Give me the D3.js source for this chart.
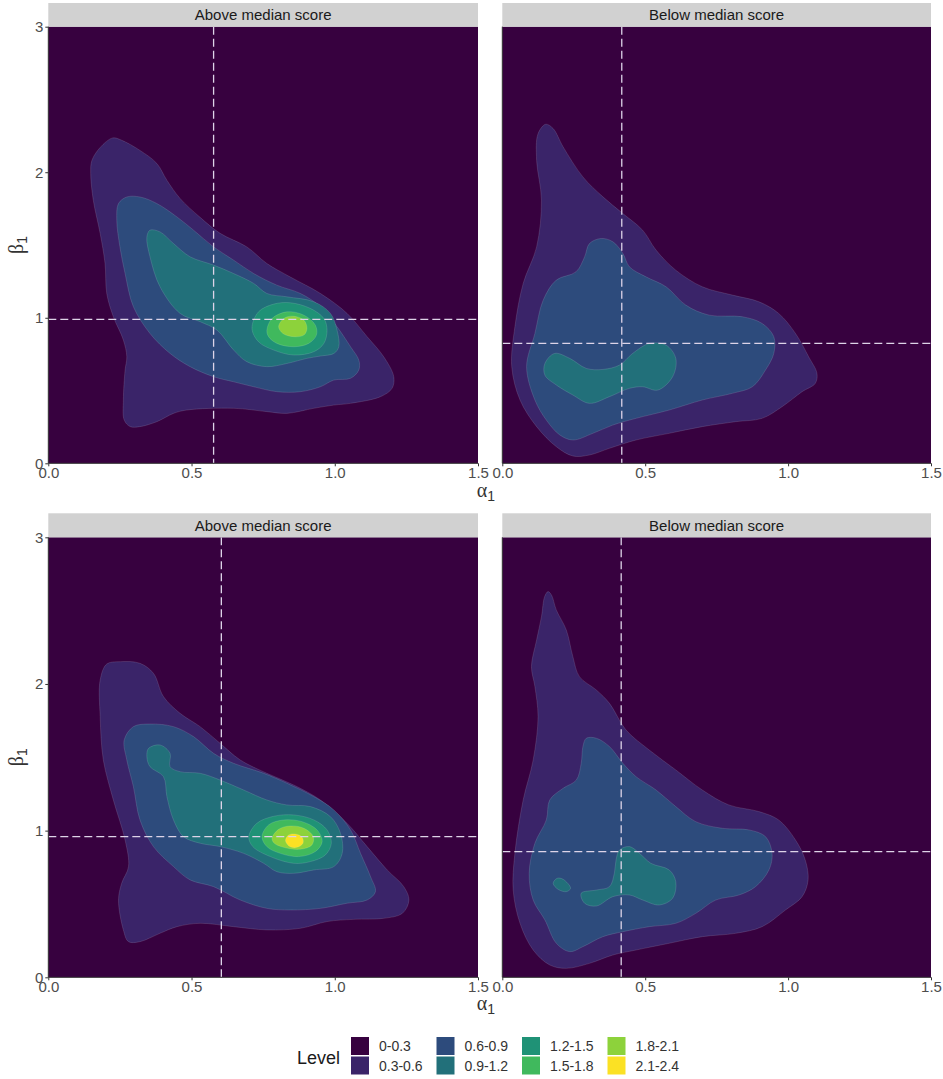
<!DOCTYPE html>
<html>
<head>
<meta charset="utf-8">
<script src="https://cdn.jsdelivr.net/npm/d3@7"></script>
<style>
  body { margin: 0; background: #fff; }
  svg { display: block; font-family: "Liberation Sans", Arial, sans-serif; }
</style>
</head>
<body>
<div id="chart"></div>
<script>
// level bands + colours
var levelLabels = ["0-0.3", "0.3-0.6", "0.6-0.9", "0.9-1.2", "1.2-1.5", "1.5-1.8", "1.8-2.1", "2.1-2.4"];
var levelColors = ["#37013f", "#3a2469", "#2d4b7c", "#22707a", "#1f9276", "#40b95d", "#8dd23b", "#fbe124"];

var xTicks = [0, 0.5, 1.0, 1.5];
var yTicks = [0, 1, 2, 3];

// contour outlines, [alpha1, beta1], one list per level (level index = band it opens)
var topAbove = [
  { level: 1, pts: [[0.225,2.236],[0.256,2.22],[0.32,2.15],[0.379,2.06],[0.414,1.945],[0.46,1.82],[0.53,1.69],[0.60,1.58],[0.693,1.487],[0.763,1.373],[0.845,1.28],[0.95,1.167],[1.043,1.03],[1.113,0.87],[1.171,0.732],[1.206,0.595],[1.2,0.515],[1.16,0.458],[1.055,0.412],[0.997,0.40],[0.927,0.378],[0.833,0.343],[0.763,0.355],[0.647,0.378],[0.484,0.366],[0.437,0.343],[0.379,0.286],[0.32,0.252],[0.286,0.252],[0.265,0.297],[0.262,0.435],[0.268,0.641],[0.274,0.732],[0.262,0.847],[0.227,1.007],[0.204,1.167],[0.198,1.373],[0.181,1.579],[0.157,1.808],[0.148,1.991],[0.152,2.08],[0.181,2.17]] },
  { level: 2, pts: [[0.274,1.83],[0.32,1.83],[0.379,1.785],[0.449,1.693],[0.507,1.602],[0.577,1.487],[0.647,1.396],[0.717,1.304],[0.798,1.224],[0.88,1.167],[0.95,1.076],[1.008,0.938],[1.055,0.801],[1.084,0.709],[1.084,0.641],[1.055,0.584],[0.997,0.572],[0.95,0.526],[0.88,0.492],[0.798,0.492],[0.717,0.526],[0.647,0.56],[0.577,0.595],[0.495,0.664],[0.425,0.755],[0.355,0.892],[0.297,1.076],[0.268,1.304],[0.25,1.487],[0.239,1.67],[0.245,1.785]] },
  { level: 3, pts: [[0.355,1.602],[0.39,1.59],[0.437,1.51],[0.495,1.419],[0.577,1.362],[0.647,1.304],[0.717,1.236],[0.763,1.167],[0.833,1.144],[0.927,1.11],[0.985,1.03],[1.008,0.915],[1.014,0.801],[0.997,0.755],[0.95,0.737],[0.903,0.721],[0.833,0.686],[0.763,0.664],[0.693,0.698],[0.647,0.778],[0.589,0.915],[0.53,0.973],[0.46,1.03],[0.39,1.213],[0.355,1.419],[0.344,1.554]] },
  { level: 4, pts: [[0.711,0.927],[0.734,1.041],[0.787,1.094],[0.845,1.103],[0.915,1.064],[0.962,0.995],[0.973,0.915],[0.962,0.824],[0.927,0.767],[0.857,0.744],[0.787,0.778],[0.734,0.835]] },
  { level: 5, pts: [[0.763,0.915],[0.781,0.995],[0.833,1.041],[0.892,1.018],[0.932,0.95],[0.936,0.881],[0.909,0.824],[0.857,0.801],[0.798,0.824],[0.769,0.87]] },
  { level: 6, pts: [[0.804,0.938],[0.822,0.995],[0.854,1.011],[0.892,0.984],[0.903,0.927],[0.892,0.881],[0.857,0.87],[0.819,0.892]] }
];

var topBelow = [
  { level: 1, pts: [[0.152,2.33],[0.178,2.30],[0.213,2.174],[0.282,1.968],[0.352,1.831],[0.422,1.716],[0.491,1.602],[0.538,1.465],[0.607,1.327],[0.70,1.213],[0.805,1.156],[0.898,1.11],[0.967,1.03],[1.026,0.892],[1.072,0.732],[1.101,0.618],[1.095,0.549],[1.049,0.492],[0.979,0.389],[0.909,0.309],[0.817,0.286],[0.70,0.252],[0.584,0.206],[0.468,0.16],[0.375,0.103],[0.305,0.057],[0.247,0.05],[0.189,0.114],[0.12,0.252],[0.062,0.435],[0.033,0.664],[0.044,0.938],[0.073,1.236],[0.12,1.487],[0.137,1.808],[0.12,2.082],[0.125,2.265]] },
  { level: 2, pts: [[0.346,1.545],[0.387,1.522],[0.422,1.442],[0.445,1.35],[0.503,1.281],[0.573,1.213],[0.642,1.087],[0.724,1.018],[0.84,1.007],[0.909,0.961],[0.95,0.87],[0.95,0.755],[0.921,0.641],[0.875,0.526],[0.805,0.481],[0.70,0.435],[0.584,0.366],[0.468,0.309],[0.387,0.263],[0.317,0.206],[0.247,0.16],[0.201,0.195],[0.154,0.297],[0.114,0.435],[0.085,0.664],[0.114,0.892],[0.143,1.121],[0.189,1.259],[0.258,1.316],[0.288,1.419],[0.305,1.51]] },
  { level: 3, pts: [[0.149,0.686],[0.183,0.755],[0.236,0.721],[0.294,0.652],[0.352,0.645],[0.41,0.675],[0.456,0.755],[0.515,0.824],[0.573,0.812],[0.607,0.721],[0.596,0.595],[0.544,0.503],[0.491,0.526],[0.445,0.515],[0.375,0.458],[0.305,0.412],[0.247,0.469],[0.189,0.538],[0.149,0.606]] }
];

var bottomAbove = [
  { level: 1, pts: [[0.251,2.152],[0.32,2.141],[0.367,2.073],[0.402,1.914],[0.46,1.80],[0.53,1.709],[0.60,1.595],[0.67,1.482],[0.763,1.391],[0.857,1.311],[0.95,1.209],[1.043,1.05],[1.113,0.891],[1.183,0.732],[1.241,0.618],[1.259,0.527],[1.236,0.436],[1.171,0.402],[1.066,0.395],[0.973,0.38],[0.88,0.334],[0.763,0.323],[0.647,0.345],[0.53,0.368],[0.449,0.345],[0.39,0.30],[0.32,0.243],[0.28,0.243],[0.262,0.323],[0.245,0.527],[0.256,0.641],[0.28,0.755],[0.268,0.936],[0.227,1.209],[0.192,1.482],[0.181,1.777],[0.181,2.027],[0.204,2.136]] },
  { level: 2, pts: [[0.297,1.709],[0.355,1.727],[0.437,1.709],[0.507,1.641],[0.577,1.527],[0.647,1.459],[0.752,1.391],[0.833,1.323],[0.927,1.232],[0.997,1.141],[1.055,1.005],[1.09,0.845],[1.125,0.686],[1.142,0.584],[1.113,0.527],[1.043,0.505],[0.95,0.47],[0.845,0.459],[0.763,0.47],[0.67,0.527],[0.577,0.618],[0.495,0.664],[0.437,0.755],[0.367,0.891],[0.32,1.073],[0.297,1.30],[0.274,1.482],[0.265,1.618]] },
  { level: 3, pts: [[0.35,1.561],[0.39,1.584],[0.425,1.527],[0.425,1.436],[0.46,1.402],[0.53,1.391],[0.60,1.345],[0.682,1.277],[0.763,1.209],[0.833,1.175],[0.915,1.164],[0.985,1.095],[1.02,0.982],[1.026,0.845],[0.997,0.755],[0.927,0.732],[0.857,0.709],[0.798,0.72],[0.752,0.777],[0.682,0.845],[0.60,0.891],[0.53,0.914],[0.472,0.959],[0.437,1.073],[0.414,1.232],[0.402,1.368],[0.355,1.436],[0.344,1.505]] },
  { level: 4, pts: [[0.70,0.959],[0.728,1.05],[0.787,1.098],[0.857,1.107],[0.927,1.073],[0.973,1.005],[0.988,0.914],[0.967,0.834],[0.915,0.789],[0.857,0.777],[0.775,0.823],[0.714,0.891]] },
  { level: 5, pts: [[0.746,0.959],[0.769,1.039],[0.822,1.073],[0.886,1.061],[0.938,1.005],[0.956,0.925],[0.932,0.857],[0.874,0.823],[0.81,0.845],[0.763,0.891]] },
  { level: 6, pts: [[0.781,0.948],[0.804,1.009],[0.845,1.032],[0.892,1.016],[0.925,0.959],[0.92,0.902],[0.879,0.873],[0.822,0.886],[0.789,0.914]] },
  { level: 7, pts: [[0.828,0.932],[0.839,0.97],[0.862,0.977],[0.886,0.955],[0.889,0.914],[0.868,0.886],[0.843,0.891]] }
];

var bottomBelow = [
  { level: 1, pts: [[0.16,2.63],[0.172,2.607],[0.189,2.505],[0.224,2.368],[0.247,2.186],[0.27,2.05],[0.329,1.959],[0.375,1.868],[0.433,1.686],[0.514,1.55],[0.607,1.414],[0.70,1.277],[0.793,1.175],[0.898,1.13],[0.967,1.073],[1.026,0.936],[1.06,0.80],[1.07,0.664],[1.049,0.55],[0.991,0.459],[0.909,0.345],[0.817,0.30],[0.70,0.277],[0.584,0.232],[0.468,0.186],[0.387,0.152],[0.305,0.095],[0.224,0.061],[0.166,0.084],[0.108,0.186],[0.062,0.368],[0.038,0.595],[0.044,0.845],[0.073,1.209],[0.108,1.482],[0.125,1.777],[0.114,1.982],[0.102,2.118],[0.12,2.30],[0.137,2.459],[0.148,2.595]] },
  { level: 2, pts: [[0.294,1.63],[0.329,1.63],[0.375,1.573],[0.422,1.459],[0.468,1.368],[0.538,1.277],[0.607,1.164],[0.677,1.061],[0.77,1.016],[0.863,1.005],[0.921,0.959],[0.944,0.845],[0.933,0.732],[0.886,0.618],[0.828,0.561],[0.747,0.527],[0.677,0.436],[0.607,0.368],[0.514,0.345],[0.422,0.311],[0.352,0.277],[0.282,0.209],[0.236,0.175],[0.189,0.232],[0.149,0.391],[0.108,0.527],[0.094,0.709],[0.114,0.914],[0.154,1.073],[0.166,1.209],[0.213,1.289],[0.259,1.345],[0.276,1.459],[0.282,1.573]] },
  { level: 3, pts: [[0.398,0.80],[0.41,0.868],[0.445,0.891],[0.48,0.845],[0.52,0.777],[0.584,0.732],[0.607,0.652],[0.596,0.539],[0.549,0.493],[0.491,0.527],[0.445,0.561],[0.387,0.55],[0.329,0.486],[0.288,0.505],[0.276,0.573],[0.329,0.595],[0.375,0.618],[0.392,0.709]] },
  { level: 3, pts: [[0.178,0.641],[0.192,0.675],[0.213,0.668],[0.239,0.607],[0.224,0.584],[0.195,0.60]] }
];

// medians [alpha1, beta1]
var medians = {
  topAbove: [0.577, 0.989],
  topBelow: [0.418, 0.824],
  bottomAbove: [0.604, 0.959],
  bottomBelow: [0.416, 0.857]
};

var width = 943, height = 1079;
var svg = d3.select("#chart").append("svg")
    .attr("width", width)
    .attr("height", height);

var rows = [
  { top: 26.7, bottom: 463.3, stripTop: 3, titleY: 497 },
  { top: 537.3, bottom: 977.3, stripTop: 513.3, titleY: 1010 }
];
var cols = [
  { left: 48.3, right: 478, strip: "Above median score", showY: true },
  { left: 502.3, right: 931, strip: "Below median score", showY: false }
];

var panels = [
  { row: 0, col: 0, contours: topAbove, med: medians.topAbove },
  { row: 0, col: 1, contours: topBelow, med: medians.topBelow },
  { row: 1, col: 0, contours: bottomAbove, med: medians.bottomAbove },
  { row: 1, col: 1, contours: bottomBelow, med: medians.bottomBelow }
];

panels.forEach(function(p, i) {
  var r = rows[p.row], c = cols[p.col];
  var x = d3.scaleLinear().domain([0, 1.5]).range([c.left, c.right]);
  var y = d3.scaleLinear().domain([0, 3]).range([r.bottom, r.top]);

  var g = svg.append("g");

  g.append("clipPath").attr("id", "clip" + i)
    .append("rect")
    .attr("x", c.left).attr("y", r.top)
    .attr("width", c.right - c.left).attr("height", r.bottom - r.top);

  // lowest band fills the panel
  g.append("rect")
    .attr("x", c.left).attr("y", r.top)
    .attr("width", c.right - c.left).attr("height", r.bottom - r.top)
    .style("fill", levelColors[0]);

  var line = d3.line()
    .x(function(d) { return x(d[0]); })
    .y(function(d) { return y(d[1]); })
    .curve(d3.curveCatmullRomClosed.alpha(0.5));

  var cg = g.append("g").attr("clip-path", "url(#clip" + i + ")");
  cg.selectAll("path.band")
    .data(p.contours)
    .enter().append("path")
    .attr("class", "band")
    .attr("d", function(d) { return line(d.pts); })
    .style("fill", function(d) { return levelColors[d.level]; })
    .style("stroke", "rgba(255,255,255,0.25)")
    .style("stroke-width", 0.5);

  // median lines
  cg.append("line")
    .attr("x1", x(p.med[0])).attr("x2", x(p.med[0]))
    .attr("y1", r.top).attr("y2", r.bottom)
    .style("stroke", "#ddd4e8").style("stroke-width", 1.3)
    .style("stroke-dasharray", "8,4");
  cg.append("line")
    .attr("x1", c.left).attr("x2", c.right)
    .attr("y1", y(p.med[1])).attr("y2", y(p.med[1]))
    .style("stroke", "#ddd4e8").style("stroke-width", 1.3)
    .style("stroke-dasharray", "8,4");

  // strip
  g.append("rect")
    .attr("x", c.left).attr("y", r.stripTop)
    .attr("width", c.right - c.left).attr("height", r.top - r.stripTop)
    .style("fill", "#d1d1d1");
  g.append("text")
    .attr("x", (c.left + c.right) / 2).attr("y", (r.stripTop + r.top) / 2 + 5.5)
    .attr("text-anchor", "middle")
    .style("font-size", "15px").style("fill", "#1a1a1a")
    .text(c.strip);

  // axes
  var xAxis = d3.axisBottom(x).tickValues(xTicks).tickFormat(d3.format(".1f")).tickSize(3).tickPadding(1);
  var ax = g.append("g").attr("transform", "translate(0," + r.bottom + ")").call(xAxis);
  var yAxis = d3.axisLeft(y).tickValues(yTicks).tickFormat(d3.format("d")).tickSize(3).tickPadding(2);
  if (!c.showY) yAxis.tickValues([]);
  var ay = g.append("g").attr("transform", "translate(" + c.left + ",0)").call(yAxis);

  [ax, ay].forEach(function(a) {
    a.attr("font-size", null).attr("font-family", null);
    a.select(".domain").style("stroke", "#333").style("stroke-width", 1);
    a.selectAll(".tick line").style("stroke", "#333");
    a.selectAll(".tick text").style("fill", "#4d4d4d")
      .style("font-size", "15px")
      .style("font-family", "'Liberation Sans', Arial, sans-serif");
  });
  ax.select(".domain").attr("d", "M" + c.left + ",0H" + c.right);
  ay.select(".domain").attr("d", "M0," + r.bottom + "V" + r.top);
});

// axis titles
rows.forEach(function(r) {
  var xt = svg.append("text")
    .attr("x", 486).attr("y", r.titleY)
    .attr("text-anchor", "middle")
    .style("font-family", "'Liberation Serif', 'DejaVu Serif', serif")
    .style("font-size", "20px").style("fill", "#333");
  xt.append("tspan").text("\u03b1");
  xt.append("tspan").attr("dy", 4).style("font-size", "14px").style("font-family", "'Liberation Sans', Arial, sans-serif").text("1");

  var cy = (r.top + r.bottom) / 2;
  var yt = svg.append("text")
    .attr("transform", "translate(23," + cy + ") rotate(-90)")
    .attr("text-anchor", "middle")
    .style("font-family", "'Liberation Serif', 'DejaVu Serif', serif")
    .style("font-size", "20px").style("fill", "#333");
  yt.append("tspan").text("\u03b2");
  yt.append("tspan").attr("dy", 4).style("font-size", "14px").style("font-family", "'Liberation Sans', Arial, sans-serif").text("1");
});

// legend
var legend = svg.append("g");
legend.append("text")
  .attr("x", 297).attr("y", 1064)
  .style("font-size", "18px").style("fill", "#1a1a1a")
  .text("Level");

var keyX = d3.scaleBand().domain(d3.range(4)).range([351, 693]);
legend.selectAll("g.key")
  .data(levelLabels)
  .enter().append("g")
  .attr("class", "key")
  .attr("transform", function(d, i) {
    var col = Math.floor(i / 2), row = i % 2;
    return "translate(" + keyX(col) + "," + (1037 + row * 19.5) + ")";
  })
  .each(function(d, i) {
    var k = d3.select(this);
    k.append("rect").attr("width", 18).attr("height", 18)
      .style("fill", levelColors[i]);
    k.append("text").attr("x", 28).attr("y", 14)
      .style("font-size", "14px").style("fill", "#333")
      .text(d);
  });
</script>
</body>
</html>
